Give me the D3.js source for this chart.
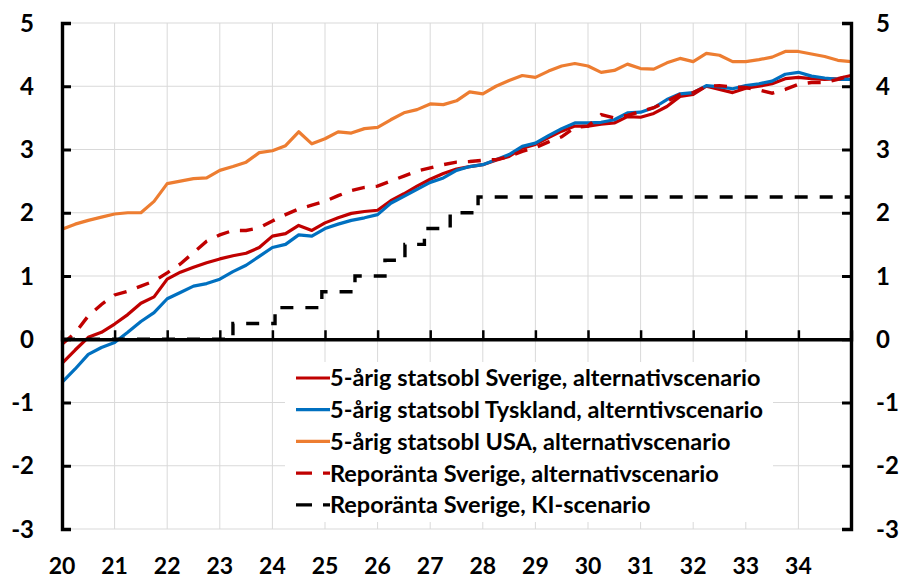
<!DOCTYPE html>
<html>
<head>
<meta charset="utf-8">
<script src="https://cdn.jsdelivr.net/npm/d3@7"></script>
<style>
  html, body { margin: 0; padding: 0; background: #fff; }
  svg { display: block; }
  text { font-family: Lato, "Open Sans", "DejaVu Sans", sans-serif; font-weight: bold; fill: #000; }
</style>
</head>
<body>
<svg id="chart" width="904" height="580"></svg>
<script>
// ---- Data (quarterly, 2020Q1 .. 2035Q1) ----
const quarters = d3.range(61).map(i => 20 + i / 4);

const sweden5y = [-0.38,-0.17,0.03,0.11,0.24,0.39,0.57,0.67,0.95,1.06,1.14,1.21,1.27,1.32,1.36,1.45,1.63,1.67,1.80,1.72,
  1.84,1.92,1.99,2.02,2.04,2.19,2.30,2.42,2.53,2.62,2.69,2.73,2.76,2.83,2.89,3.02,3.08,3.19,3.29,3.37,
  3.37,3.40,3.42,3.52,3.51,3.57,3.68,3.84,3.87,4.00,3.95,3.90,3.97,4.00,4.04,4.12,4.14,4.12,4.11,4.12,4.17];

const germany5y = [-0.68,-0.47,-0.24,-0.13,-0.05,0.11,0.28,0.42,0.64,0.74,0.84,0.88,0.95,1.07,1.17,1.31,1.45,1.50,1.65,1.63,
  1.75,1.82,1.88,1.92,1.97,2.15,2.26,2.37,2.48,2.55,2.67,2.73,2.76,2.84,2.92,3.05,3.10,3.22,3.33,3.42,
  3.42,3.43,3.47,3.58,3.59,3.66,3.79,3.88,3.90,4.01,3.99,3.96,4.01,4.04,4.08,4.19,4.22,4.16,4.13,4.11,4.11];

const usa5y = [1.74,1.82,1.88,1.93,1.98,2.00,2.00,2.18,2.46,2.50,2.54,2.55,2.67,2.73,2.80,2.95,2.98,3.06,3.28,3.09,
  3.17,3.28,3.26,3.33,3.35,3.47,3.58,3.63,3.72,3.71,3.77,3.91,3.88,4.00,4.09,4.17,4.14,4.24,4.32,4.36,
  4.32,4.22,4.25,4.35,4.28,4.27,4.37,4.44,4.39,4.52,4.49,4.39,4.39,4.42,4.46,4.55,4.55,4.51,4.47,4.41,4.39];

const repoAlt = [-0.08,0.10,0.37,0.55,0.70,0.76,0.84,0.92,1.05,1.19,1.37,1.55,1.65,1.72,1.72,1.76,1.87,1.97,2.06,2.12,
  2.18,2.27,2.35,2.40,2.42,2.50,2.58,2.66,2.71,2.76,2.80,2.81,2.83,2.84,2.89,2.97,3.03,3.12,3.20,3.35,
  3.37,3.55,3.50,3.54,3.60,3.66,3.76,3.87,3.90,4.00,4.01,3.99,3.98,3.94,3.89,3.95,4.03,4.06,4.06,4.11,4.17];

// KI-scenario policy rate: change dates (decimal year) and levels
const kiDates  = [20, 23.25, 24.05, 24.94, 25.57, 26.14, 26.52, 26.89, 27.38, 27.91, 35];
const kiLevels = [0, 0.25, 0.50, 0.75, 1.00, 1.25, 1.50, 1.75, 2.00, 2.25, 2.25];

const xTickLabels = ["20","21","22","23","24","25","26","27","28","29","30","31","32","33","34"];
const yTicks = [-3,-2,-1,0,1,2,3,4,5];

const seriesNames = [
  "5-årig statsobl Sverige, alternativscenario",
  "5-årig statsobl Tyskland, alterntivscenario",
  "5-årig statsobl USA, alternativscenario",
  "Reporänta Sverige, alternativscenario",
  "Reporänta Sverige, KI-scenario"
];
const seriesColors = ["#C00000", "#0070C0", "#ED7D31", "#C00000", "#000000"];

// ---- Layout ----
const svg = d3.select("#chart");
const L = 62, R = 851, T = 23, B = 529;
const x = d3.scaleLinear().domain([20, 35]).range([L, R]);
const y = d3.scaleLinear().domain([-3, 5]).range([B, T]);

// gridlines
const grid = svg.append("g");
grid.selectAll("line.h").data(yTicks).join("line")
  .attr("x1", L).attr("x2", R).attr("y1", d => y(d)).attr("y2", d => y(d))
  .attr("stroke", "#d9d9d9").attr("stroke-width", 1);
grid.selectAll("line.v").data(d3.range(21, 35)).join("line")
  .attr("x1", d => x(d)).attr("x2", d => x(d)).attr("y1", T).attr("y2", B)
  .attr("stroke", "#d9d9d9").attr("stroke-width", 1);

// lines
const line = d3.line().x((d, i) => x(quarters[i])).y(d => y(d));
const plot = svg.append("g");
const solid = [[sweden5y, 0], [germany5y, 1], [usa5y, 2]];
solid.forEach(([data, k]) => {
  plot.append("path").datum(data).attr("d", line)
    .attr("fill", "none").attr("stroke", seriesColors[k]).attr("stroke-width", 3.2)
    .attr("stroke-linejoin", "round");
});
plot.append("path").datum(repoAlt).attr("d", line)
  .attr("fill", "none").attr("stroke", seriesColors[3]).attr("stroke-width", 3.4)
  .attr("stroke-dasharray", "13,11");

// axes (zero line, left, right)
const axes = svg.append("g");
const xAxis = d3.axisTop(x).tickValues(d3.range(20, 36)).tickSize(9).tickFormat("");
axes.append("g").attr("transform", `translate(0,${y(0)})`).call(xAxis)
  .call(g => { g.select(".domain").attr("stroke", "#000").attr("stroke-width", 3.4);
               g.selectAll(".tick line").attr("stroke", "#000").attr("stroke-width", 2.5); });

const kiLine = d3.line().x((d, i) => x(kiDates[i])).y(d => y(d)).curve(d3.curveStepAfter);
plot.append("path").datum(kiLevels).attr("d", kiLine)
  .attr("fill", "none").attr("stroke", seriesColors[4]).attr("stroke-width", 3.4)
  .attr("stroke-dasharray", "13,12");

const yAxisL = d3.axisRight(y).tickValues(yTicks).tickSize(9).tickFormat("");
axes.append("g").attr("transform", `translate(${L},0)`).call(yAxisL)
  .call(g => { g.select(".domain").attr("stroke", "#000").attr("stroke-width", 3.4);
               g.selectAll(".tick line").attr("stroke", "#000").attr("stroke-width", 3); });
const yAxisR = d3.axisLeft(y).tickValues(yTicks).tickSize(9).tickFormat("");
axes.append("g").attr("transform", `translate(${R},0)`).call(yAxisR)
  .call(g => { g.select(".domain").attr("stroke", "#000").attr("stroke-width", 3.4);
               g.selectAll(".tick line").attr("stroke", "#000").attr("stroke-width", 3); });

// tick labels
const lab = svg.append("g").style("font-size", "24px");
lab.selectAll("text.yl").data(yTicks).join("text")
  .attr("x", 34).attr("y", d => y(d)).attr("dy", "0.36em").attr("text-anchor", "end")
  .text(d => d);
lab.selectAll("text.yr").data(yTicks).join("text")
  .attr("x", 876).attr("y", d => y(d)).attr("dy", "0.36em").attr("text-anchor", "start")
  .text(d => d);
lab.selectAll("text.xl").data(xTickLabels).join("text")
  .attr("x", d => x(+d)).attr("y", 566).attr("dy", "0.36em").attr("text-anchor", "middle")
  .style("font-size", "23px")
  .text(d => d);

// legend
const lg = svg.append("g");
lg.append("rect").attr("x", 285).attr("y", 362).attr("width", 488).attr("height", 160).attr("fill", "#fff");
const dashes = [null, null, null, "16,11", "16,11"];
seriesNames.forEach((name, k) => {
  const cy = 378 + k * 31.7;
  lg.append("line").attr("x1", 296).attr("x2", 330).attr("y1", cy).attr("y2", cy)
    .attr("stroke", seriesColors[k]).attr("stroke-width", 3.2)
    .attr("stroke-dasharray", dashes[k]);
  lg.append("text").attr("x", 330).attr("y", cy).attr("dy", "0.36em")
    .style("font-size", "23.5px").text(name);
});
</script>
</body>
</html>
